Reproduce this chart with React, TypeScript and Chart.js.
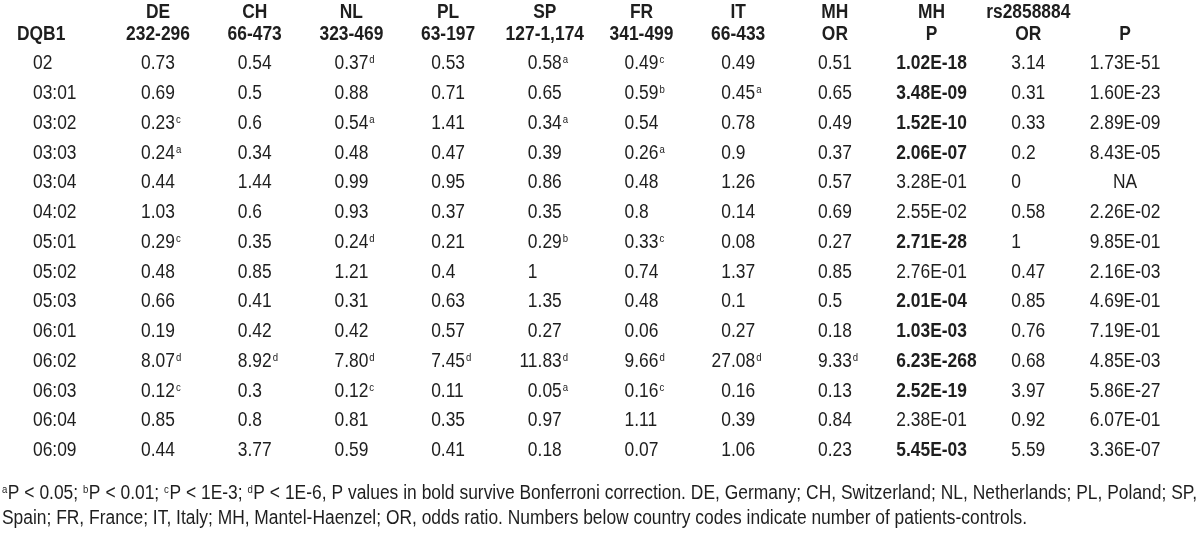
import React, { useEffect, useRef } from "react";
import { Chart, registerables } from "chart.js";

Chart.register(...registerables);

// ---------- data ----------
const rowLabels = ["02", "03:01", "03:02", "03:03", "03:04", "04:02", "05:01", "05:02", "05:03", "06:01", "06:02", "06:03", "06:04", "06:09"];

const headerTop = ["DE", "CH", "NL", "PL", "SP", "FR", "IT", "MH", "MH", "rs2858884", ""];
const headerSub = ["232-296", "66-473", "323-469", "63-197", "127-1,174", "341-499", "66-433", "OR", "P", "OR", "P"];

const deValues = ["0.73", "0.69", "0.23", "0.24", "0.44", "1.03", "0.29", "0.48", "0.66", "0.19", "8.07", "0.12", "0.85", "0.44"];
const deMarks = ["", "", "c", "a", "", "", "c", "", "", "", "d", "c", "", ""];
const chValues = ["0.54", "0.5", "0.6", "0.34", "1.44", "0.6", "0.35", "0.85", "0.41", "0.42", "8.92", "0.3", "0.8", "3.77"];
const chMarks = ["", "", "", "", "", "", "", "", "", "", "d", "", "", ""];
const nlValues = ["0.37", "0.88", "0.54", "0.48", "0.99", "0.93", "0.24", "1.21", "0.31", "0.42", "7.80", "0.12", "0.81", "0.59"];
const nlMarks = ["d", "", "a", "", "", "", "d", "", "", "", "d", "c", "", ""];
const plValues = ["0.53", "0.71", "1.41", "0.47", "0.95", "0.37", "0.21", "0.4", "0.63", "0.57", "7.45", "0.11", "0.35", "0.41"];
const plMarks = ["", "", "", "", "", "", "", "", "", "", "d", "", "", ""];
const spValues = ["0.58", "0.65", "0.34", "0.39", "0.86", "0.35", "0.29", "1", "1.35", "0.27", "11.83", "0.05", "0.97", "0.18"];
const spMarks = ["a", "", "a", "", "", "", "b", "", "", "", "d", "a", "", ""];
const frValues = ["0.49", "0.59", "0.54", "0.26", "0.48", "0.8", "0.33", "0.74", "0.48", "0.06", "9.66", "0.16", "1.11", "0.07"];
const frMarks = ["c", "b", "", "a", "", "", "c", "", "", "", "d", "c", "", ""];
const itValues = ["0.49", "0.45", "0.78", "0.9", "1.26", "0.14", "0.08", "1.37", "0.1", "0.27", "27.08", "0.16", "0.39", "1.06"];
const itMarks = ["", "a", "", "", "", "", "", "", "", "", "d", "", "", ""];
const mhOrValues = ["0.51", "0.65", "0.49", "0.37", "0.57", "0.69", "0.27", "0.85", "0.5", "0.18", "9.33", "0.13", "0.84", "0.23"];
const mhOrMarks = ["", "", "", "", "", "", "", "", "", "", "d", "", "", ""];
const mhPValues = ["1.02E-18", "3.48E-09", "1.52E-10", "2.06E-07", "3.28E-01", "2.55E-02", "2.71E-28", "2.76E-01", "2.01E-04", "1.03E-03", "6.23E-268", "2.52E-19", "2.38E-01", "5.45E-03"];
const mhPBold = [true, true, true, true, false, false, true, false, true, true, true, true, false, true];
const rsOrValues = ["3.14", "0.31", "0.33", "0.2", "0", "0.58", "1", "0.47", "0.85", "0.76", "0.68", "3.97", "0.92", "5.59"];
const rsPValues = ["1.73E-51", "1.60E-23", "2.89E-09", "8.43E-05", "NA", "2.26E-02", "9.85E-01", "2.16E-03", "4.69E-01", "7.19E-01", "4.85E-03", "5.86E-27", "6.07E-01", "3.36E-07"];

const footnoteLine1: [string, string][] = [
  ["a", "P < 0.05;"],
  ["b", "P < 0.01;"],
  ["c", "P < 1E-3;"],
  ["d", "P < 1E-6, P values in bold survive Bonferroni correction. DE, Germany; CH, Switzerland; NL, Netherlands; PL, Poland; SP,"],
];
const footnoteLine2 = "Spain; FR, France; IT, Italy; MH, Mantel-Haenzel; OR, odds ratio. Numbers below country codes indicate number of patients-controls.";

const none = rowLabels.map(() => "");
const columns = [
  { values: deValues, marks: deMarks, bold: null, kind: "or" },
  { values: chValues, marks: chMarks, bold: null, kind: "or" },
  { values: nlValues, marks: nlMarks, bold: null, kind: "or" },
  { values: plValues, marks: plMarks, bold: null, kind: "or" },
  { values: spValues, marks: spMarks, bold: null, kind: "or" },
  { values: frValues, marks: frMarks, bold: null, kind: "or" },
  { values: itValues, marks: itMarks, bold: null, kind: "or" },
  { values: mhOrValues, marks: mhOrMarks, bold: null, kind: "or" },
  { values: mhPValues, marks: none, bold: mhPBold, kind: "p" },
  { values: rsOrValues, marks: none, bold: null, kind: "or" },
  { values: rsPValues, marks: none, bold: null, kind: "p" },
];

// ---------- styles ----------
const SX = 0.87; // narrow face
const FAMILY = '"Liberation Sans", Arial, sans-serif';
const SIZE = 20;
const SUP = 11;
const INK = "#1e1e1e";
const NOTE_LEFT = 2;
const NOTE_RIGHT = 1197;

function w(ctx: CanvasRenderingContext2D, s: string, font: string) {
  ctx.font = font;
  return ctx.measureText(s).width * SX;
}
function txt(ctx: CanvasRenderingContext2D, s: string, x: number, y: number, font: string) {
  ctx.save();
  ctx.font = font;
  ctx.translate(x, y);
  ctx.scale(SX, 1);
  ctx.textAlign = "left";
  ctx.textBaseline = "alphabetic";
  ctx.fillStyle = INK;
  ctx.fillText(s, 0, 0);
  ctx.restore();
}

const tablePlugin = {
  id: "tablePlugin",
  beforeDraw(chart: any) {
    const ctx = chart.ctx as CanvasRenderingContext2D;
    ctx.save();
    ctx.fillStyle = "#ffffff";
    ctx.fillRect(0, 0, chart.width, chart.height);
    ctx.restore();
  },
  afterDatasetsDraw(chart: any) {
    const ctx = chart.ctx as CanvasRenderingContext2D;
    const xs = chart.scales.x;
    const ys = chart.scales.y;
    const reg = `${SIZE}px ${FAMILY}`;
    const bold = `bold ${SIZE}px ${FAMILY}`;
    const sup = `${SUP}px ${FAMILY}`;
    const base = 0.36 * SIZE; // alphabetic offset from visual centre
    const rowY = (i: number) => ys.getPixelForValue(i) + base;
    const h2 = ys.getPixelForValue(-0.97) + base;
    const h1 = ys.getPixelForValue(-1.71) + base;

    // headers
    headerTop.forEach((t, c) => {
      const cx = xs.getPixelForValue(c + 1);
      if (t) txt(ctx, t, cx - w(ctx, t, bold) / 2, h1, bold);
      const s = headerSub[c];
      txt(ctx, s, cx - w(ctx, s, bold) / 2, h2, bold);
    });
    txt(ctx, "DQB1", 17, h2, bold);

    // row labels
    rowLabels.forEach((r, i) => txt(ctx, r, 33, rowY(i), reg));

    // cells
    chart.data.datasets.forEach((ds: any, c: number) => {
      const col = columns[c];
      const meta = chart.getDatasetMeta(c);
      const tmpl = col.kind === "p" ? "0.00E-00" : "0.00";
      meta.data.forEach((pt: any, i: number) => {
        const v = col.values[i];
        const f = col.bold && col.bold[i] ? bold : reg;
        const cx = pt.x;
        const y = pt.y + base;
        let x: number;
        if (v === "NA") {
          x = cx - w(ctx, v, f) / 2;
        } else {
          const xDec = cx - w(ctx, tmpl, reg) / 2 + w(ctx, "0", reg);
          const intPart = v.split(".")[0].split("E")[0];
          x = xDec - w(ctx, intPart, f);
        }
        txt(ctx, v, x, y, f);
        const m = col.marks[i];
        if (m) txt(ctx, m, x + w(ctx, v, f) + 1, y - 6, sup);
      });
    });

    // footnotes (first line justified to the right edge)
    const f1 = ys.getPixelForValue(14.45) + base;
    const f2 = ys.getPixelForValue(15.27) + base;
    type Tok = { s: string; sup: boolean; spaceAfter: boolean };
    const toks: Tok[] = [];
    footnoteLine1.forEach(([m, s], si) => {
      toks.push({ s: m, sup: true, spaceAfter: false });
      const words = s.split(" ");
      words.forEach((wd, wi) => {
        const last = wi === words.length - 1;
        toks.push({ s: wd, sup: false, spaceAfter: !last || si < footnoteLine1.length - 1 });
      });
    });
    const spW = w(ctx, " ", reg);
    let natural = 0;
    let gaps = 0;
    toks.forEach((t, k) => {
      natural += t.sup ? w(ctx, t.s, sup) + 0.5 : w(ctx, t.s, reg);
      if (t.spaceAfter && k < toks.length - 1) {
        natural += spW;
        gaps += 1;
      }
    });
    const extra = gaps > 0 ? Math.min(3, Math.max(-1.5, (NOTE_RIGHT - NOTE_LEFT - natural) / gaps)) : 0;
    let fx = NOTE_LEFT;
    toks.forEach((t, k) => {
      if (t.sup) {
        txt(ctx, t.s, fx, f1 - 6, sup);
        fx += w(ctx, t.s, sup) + 0.5;
      } else {
        txt(ctx, t.s, fx, f1, reg);
        fx += w(ctx, t.s, reg);
      }
      if (t.spaceAfter && k < toks.length - 1) fx += spW + extra;
    });
    txt(ctx, footnoteLine2, NOTE_LEFT, f2, reg);
  },
};

export default function App() {
  const ref = useRef<HTMLCanvasElement | null>(null);
  useEffect(() => {
    document.body.style.margin = "0";
    const canvas = ref.current;
    if (!canvas) return;
    const datasets = columns.map((col, c) => ({
      label: headerTop[c] + " " + headerSub[c],
      data: col.values.map((v, i) => ({ x: c + 1, y: i, v })),
      pointRadius: 0,
      pointHoverRadius: 0,
      showLine: false,
    }));
    // column centres: x=1 -> 158px, x=11 -> 1125px ; rows: 0 -> 62px, 13 -> 449px
    const xUnit = (1125 - 158) / 10;
    const xMin = 1 - 158 / xUnit;
    const yUnit = (449 - 62) / 13;
    const yMin = 0 - 62 / yUnit;
    const chart = new Chart(canvas, {
      type: "scatter",
      data: { datasets },
      options: {
        responsive: false,
        maintainAspectRatio: false,
        animation: false,
        devicePixelRatio: 1,
        layout: { padding: 0 },
        events: [],
        plugins: { legend: { display: false }, tooltip: { enabled: false }, title: { display: false } },
        scales: {
          x: { type: "linear", display: false, min: xMin, max: xMin + 1200 / xUnit },
          y: { type: "linear", display: false, reverse: true, min: yMin, max: yMin + 544 / yUnit },
        },
      },
      plugins: [tablePlugin],
    } as any);
    return () => chart.destroy();
  }, []);
  return (
    <div style={{ width: 1200, height: 544, background: "#fff" }}>
      <canvas ref={ref} width={1200} height={544} style={{ display: "block", width: 1200, height: 544 }} />
    </div>
  );
}
